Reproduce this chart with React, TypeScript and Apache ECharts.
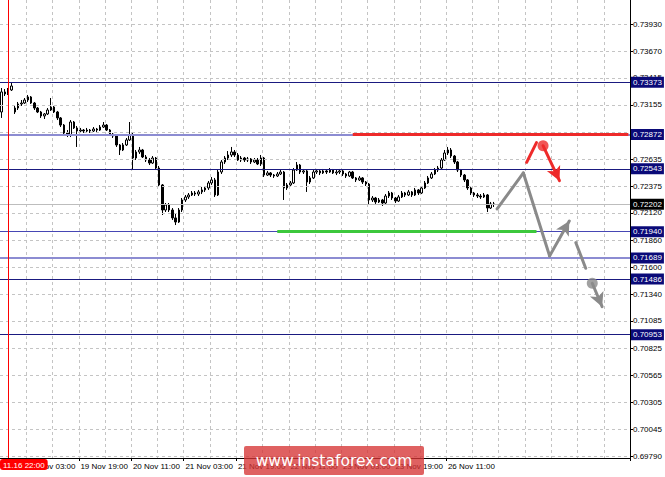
import React, { useEffect, useRef } from "react";
import * as echarts from "echarts";

// ---- data ----
const barCount = 192;
const categories = Array.from({ length: barCount }, (_, i) => String(i));

const timeLabels = [
  "19 Nov 03:00", "19 Nov 19:00", "20 Nov 11:00", "21 Nov 03:00", "21 Nov 19:00",
  "22 Nov 11:00", "23 Nov 03:00", "23 Nov 19:00", "26 Nov 11:00",
];
const timeLabelIndex = [8, 24, 40, 56, 72, 88, 104, 120, 136];
const cursorIndex = 2;
const cursorLabel = "11.16 22:00";

// [open, close, low, high]
const candles = [
  [0.73087, 0.73279, 0.73030, 0.73317], [0.73279, 0.73260, 0.73240, 0.73307], [0.73260, 0.73298, 0.73250, 0.73317], [0.73298, 0.73336, 0.73288, 0.73374],
  [0.73087, 0.73125, 0.73068, 0.73145], [0.73125, 0.73164, 0.73106, 0.73183], [0.73164, 0.73173, 0.73145, 0.73202], [0.73173, 0.73202, 0.73164, 0.73221],
  [0.73202, 0.73231, 0.73183, 0.73250], [0.73231, 0.73173, 0.73164, 0.73240], [0.73173, 0.73125, 0.73106, 0.73183], [0.73125, 0.73087, 0.73077, 0.73135],
  [0.73087, 0.73049, 0.73030, 0.73097], [0.73049, 0.73068, 0.73020, 0.73077], [0.73068, 0.73106, 0.73058, 0.73125], [0.73106, 0.73135, 0.73097, 0.73221],
  [0.73135, 0.73087, 0.73077, 0.73145], [0.73087, 0.73030, 0.73010, 0.73097], [0.73030, 0.72962, 0.72943, 0.73039], [0.72962, 0.72886, 0.72867, 0.72972],
  [0.72886, 0.72867, 0.72847, 0.72914], [0.72867, 0.72991, 0.72847, 0.73010], [0.72991, 0.72934, 0.72924, 0.73001], [0.72934, 0.72905, 0.72752, 0.72953],
  [0.72905, 0.72914, 0.72886, 0.72934], [0.72914, 0.72905, 0.72886, 0.72924], [0.72905, 0.72914, 0.72895, 0.72934], [0.72914, 0.72905, 0.72886, 0.72924],
  [0.72905, 0.72924, 0.72895, 0.72943], [0.72924, 0.72914, 0.72895, 0.72934], [0.72914, 0.72943, 0.72905, 0.72962], [0.72943, 0.72962, 0.72934, 0.72991],
  [0.72962, 0.72914, 0.72905, 0.72972], [0.72914, 0.72876, 0.72867, 0.72924], [0.72876, 0.72857, 0.72838, 0.72886], [0.72857, 0.72771, 0.72752, 0.72867],
  [0.72771, 0.72723, 0.72675, 0.72780], [0.72723, 0.72771, 0.72713, 0.72790], [0.72771, 0.72819, 0.72761, 0.72838], [0.72819, 0.72867, 0.72809, 0.72991],
  [0.72867, 0.72646, 0.72531, 0.72886], [0.72646, 0.72704, 0.72627, 0.72723], [0.72704, 0.72723, 0.72685, 0.72752], [0.72723, 0.72656, 0.72646, 0.72733],
  [0.72656, 0.72627, 0.72608, 0.72675], [0.72627, 0.72598, 0.72579, 0.72646], [0.72598, 0.72646, 0.72589, 0.72665], [0.72646, 0.72550, 0.72531, 0.72656],
  [0.72550, 0.72388, 0.72369, 0.72570], [0.72388, 0.72148, 0.72100, 0.72397], [0.72148, 0.72196, 0.72129, 0.72215], [0.72196, 0.72148, 0.72129, 0.72215],
  [0.72148, 0.72072, 0.72052, 0.72167], [0.72072, 0.72033, 0.72004, 0.72110], [0.72033, 0.72148, 0.72024, 0.72167], [0.72148, 0.72244, 0.72129, 0.72263],
  [0.72244, 0.72273, 0.72225, 0.72292], [0.72273, 0.72292, 0.72254, 0.72311], [0.72292, 0.72311, 0.72282, 0.72330], [0.72311, 0.72301, 0.72282, 0.72330],
  [0.72301, 0.72321, 0.72282, 0.72340], [0.72321, 0.72340, 0.72301, 0.72369], [0.72340, 0.72359, 0.72321, 0.72378], [0.72359, 0.72407, 0.72340, 0.72426],
  [0.72407, 0.72436, 0.72388, 0.72464], [0.72436, 0.72292, 0.72273, 0.72455], [0.72292, 0.72512, 0.72282, 0.72531], [0.72512, 0.72608, 0.72493, 0.72627],
  [0.72608, 0.72646, 0.72589, 0.72665], [0.72646, 0.72675, 0.72627, 0.72713], [0.72675, 0.72704, 0.72656, 0.72752], [0.72704, 0.72675, 0.72656, 0.72723],
  [0.72675, 0.72627, 0.72618, 0.72694], [0.72627, 0.72646, 0.72608, 0.72665], [0.72646, 0.72627, 0.72608, 0.72656], [0.72627, 0.72637, 0.72608, 0.72656],
  [0.72637, 0.72608, 0.72589, 0.72646], [0.72608, 0.72627, 0.72598, 0.72646], [0.72627, 0.72589, 0.72579, 0.72646], [0.72589, 0.72646, 0.72570, 0.72675],
  [0.72646, 0.72483, 0.72464, 0.72656], [0.72483, 0.72503, 0.72474, 0.72522], [0.72503, 0.72483, 0.72464, 0.72512], [0.72483, 0.72474, 0.72455, 0.72493],
  [0.72474, 0.72493, 0.72464, 0.72512], [0.72493, 0.72512, 0.72483, 0.72531], [0.72512, 0.72359, 0.72244, 0.72522], [0.72359, 0.72388, 0.72340, 0.72407],
  [0.72388, 0.72407, 0.72369, 0.72426], [0.72407, 0.72531, 0.72397, 0.72550], [0.72531, 0.72579, 0.72522, 0.72608], [0.72579, 0.72512, 0.72493, 0.72589],
  [0.72512, 0.72522, 0.72493, 0.72541], [0.72522, 0.72416, 0.72321, 0.72531], [0.72416, 0.72455, 0.72397, 0.72474], [0.72455, 0.72512, 0.72445, 0.72531],
  [0.72512, 0.72522, 0.72493, 0.72541], [0.72522, 0.72503, 0.72483, 0.72531], [0.72503, 0.72522, 0.72493, 0.72541], [0.72522, 0.72512, 0.72493, 0.72531],
  [0.72512, 0.72531, 0.72503, 0.72550], [0.72531, 0.72503, 0.72493, 0.72541], [0.72503, 0.72512, 0.72483, 0.72531], [0.72512, 0.72522, 0.72493, 0.72541],
  [0.72522, 0.72493, 0.72474, 0.72531], [0.72493, 0.72474, 0.72455, 0.72503], [0.72474, 0.72512, 0.72464, 0.72522], [0.72512, 0.72455, 0.72445, 0.72522],
  [0.72455, 0.72436, 0.72416, 0.72464], [0.72436, 0.72455, 0.72426, 0.72474], [0.72455, 0.72416, 0.72397, 0.72464], [0.72416, 0.72397, 0.72378, 0.72426],
  [0.72397, 0.72244, 0.72196, 0.72407], [0.72244, 0.72263, 0.72225, 0.72282], [0.72263, 0.72225, 0.72206, 0.72273], [0.72225, 0.72244, 0.72215, 0.72263],
  [0.72244, 0.72215, 0.72187, 0.72254], [0.72215, 0.72282, 0.72206, 0.72301], [0.72282, 0.72311, 0.72263, 0.72330], [0.72311, 0.72263, 0.72244, 0.72321],
  [0.72263, 0.72234, 0.72215, 0.72273], [0.72234, 0.72273, 0.72225, 0.72292], [0.72273, 0.72311, 0.72263, 0.72330], [0.72311, 0.72292, 0.72273, 0.72321],
  [0.72292, 0.72321, 0.72282, 0.72340], [0.72321, 0.72292, 0.72273, 0.72330], [0.72292, 0.72340, 0.72282, 0.72359], [0.72340, 0.72311, 0.72292, 0.72349],
  [0.72311, 0.72359, 0.72301, 0.72378], [0.72359, 0.72407, 0.72349, 0.72426], [0.72407, 0.72455, 0.72397, 0.72474], [0.72455, 0.72493, 0.72445, 0.72512],
  [0.72493, 0.72531, 0.72483, 0.72550], [0.72531, 0.72550, 0.72512, 0.72570], [0.72550, 0.72627, 0.72541, 0.72646], [0.72627, 0.72694, 0.72618, 0.72723],
  [0.72694, 0.72723, 0.72675, 0.72752], [0.72723, 0.72665, 0.72646, 0.72742], [0.72665, 0.72608, 0.72589, 0.72675], [0.72608, 0.72531, 0.72512, 0.72618],
  [0.72531, 0.72483, 0.72464, 0.72541], [0.72483, 0.72436, 0.72416, 0.72493], [0.72436, 0.72359, 0.72340, 0.72445], [0.72359, 0.72311, 0.72292, 0.72369],
  [0.72311, 0.72292, 0.72273, 0.72321], [0.72292, 0.72282, 0.72263, 0.72311], [0.72282, 0.72273, 0.72254, 0.72301], [0.72273, 0.72292, 0.72263, 0.72311],
  [0.72292, 0.72167, 0.72129, 0.72301], [0.72167, 0.72206, 0.72158, 0.72225], [0.72206, 0.72202, 0.72177, 0.72225],
];

const priceMin = 0.69772;
const priceMax = 0.7416;
const gridTicks = [
  0.7393, 0.7367, 0.73415, 0.73155, 0.72895, 0.72635, 0.72375, 0.7212, 0.7186,
  0.716, 0.7134, 0.71085, 0.70825, 0.70565, 0.70305, 0.70045, 0.6979,
];
const labelTicks = [
  0.7393, 0.7367, 0.73415, 0.73155, 0.72635, 0.72375, 0.7212, 0.7186,
  0.716, 0.7134, 0.71085, 0.70825, 0.70565, 0.70305, 0.70045, 0.6979,
];

// horizontal levels
const navyLevels = [0.73373, 0.72543, 0.71486, 0.70953];
const lavenderLevels = [0.72872, 0.71689];
const blueLevels = [0.7194];
const currentPrice = 0.72202;

// highlighted segments [startIndex, endIndex, price]
const resistanceSegment = [106.8, 191, 0.72872];
const supportSegment = [84.4, 162.6, 0.7194];

// forecast arrows: [index, price]
const greyPath = [
  [151.3, 0.72158],
  [158.9, 0.72503],
  [166.5, 0.71708],
  [172.6, 0.72043],
];
const greyPath2 = [
  [175.4, 0.71835],
  [178.3, 0.7159],
];
const greyDot = [179.5, 0.71446];
const greyTip = [182.6, 0.71222];
const redPath = [
  [159.8, 0.72605],
  [163.1, 0.72793],
];
const redDot = [165.4, 0.72764];
const redTip = [170.4, 0.72429];

// ---- styling ----
const FONT = "'Liberation Sans', Arial, sans-serif";
const NAVY = "#1a1a80";
const LABEL_BG = "#0a0a78";
const GRID = "#c4c4c4";
const GREY_ARROW = "#8a8a8a";
const RED = "#ee2a2a";

function levelLine(value: number, color: string, width: number, bg: string) {
  return {
    yAxis: value,
    lineStyle: { color, width, type: "solid" },
    label: {
      show: true,
      position: "end",
      distance: 1,
      formatter: () => value.toFixed(5),
      backgroundColor: bg,
      color: "#ffffff",
      fontFamily: FONT,
      fontSize: 8,
      padding: [2, 2, 1, 2],
    },
  };
}

function seg(a: number[], b: number[], color: string, arrow: boolean) {
  return [
    { coord: a, symbol: "none" },
    { coord: b, symbol: arrow ? "arrow" : "none", lineStyle: { color, width: 3, cap: "round" } },
  ];
}

function buildOption() {
  const levelData: any[] = [];
  navyLevels.forEach((v) => levelData.push(levelLine(v, NAVY, 1, LABEL_BG)));
  lavenderLevels.forEach((v) => levelData.push(levelLine(v, "#8c8cd2", 2, LABEL_BG)));
  blueLevels.forEach((v) => levelData.push(levelLine(v, "#4646b4", 1, LABEL_BG)));
  levelData.push(levelLine(currentPrice, "#bdbdbd", 1, "#000000"));

  const segData: any[] = [
    [
      { coord: [resistanceSegment[0], resistanceSegment[2]], symbol: "none" },
      { coord: [resistanceSegment[1], resistanceSegment[2]], symbol: "none", lineStyle: { color: RED, width: 3, cap: "butt" } },
    ],
    [
      { coord: [supportSegment[0], supportSegment[2]], symbol: "none" },
      { coord: [supportSegment[1], supportSegment[2]], symbol: "none", lineStyle: { color: "#3cc83c", width: 3, cap: "butt" } },
    ],
  ];
  for (let i = 0; i < greyPath.length - 1; i++) {
    segData.push(seg(greyPath[i], greyPath[i + 1], GREY_ARROW, i === greyPath.length - 2));
  }
  segData.push(seg(greyPath2[0], greyPath2[1], GREY_ARROW, false));
  segData.push(seg(greyDot, greyTip, GREY_ARROW, true));
  segData.push(seg(redPath[0], redPath[1], RED, false));
  segData.push(seg(redDot, redTip, RED, true));

  return {
    animation: false,
    backgroundColor: "#ffffff",
    textStyle: { fontFamily: FONT },
    grid: { left: 0, right: 35, top: 0, bottom: 19, containLabel: false },
    xAxis: {
      type: "category",
      data: categories,
      boundaryGap: true,
      axisLine: { show: true, lineStyle: { color: "#000000", width: 1 } },
      axisTick: {
        show: true,
        length: 3,
        interval: (i: number) => timeLabelIndex.includes(i),
        lineStyle: { color: "#000000" },
      },
      axisLabel: {
        show: true,
        interval: (i: number) => timeLabelIndex.includes(i),
        formatter: (_v: string, i: number) => {
          const k = timeLabelIndex.indexOf(i);
          return k >= 0 ? timeLabels[k] : "";
        },
        align: "left",
        color: "#000000",
        fontSize: 8,
        fontFamily: FONT,
        margin: 4,
      },
      splitLine: {
        show: true,
        interval: (i: number) => i > 0 && i % 8 === 0,
        lineStyle: { color: GRID, type: [3, 3], width: 1 },
      },
      axisPointer: {
        show: true,
        value: cursorIndex,
        status: "show",
        triggerOn: "none",
        snap: false,
        type: "line",
        z: 60,
        lineStyle: { color: "#ff0000", width: 1, type: "solid" },
        label: {
          show: true,
          formatter: () => cursorLabel,
          backgroundColor: "#ff0000",
          color: "#ffffff",
          fontSize: 8,
          fontFamily: FONT,
          padding: [2, 3, 1, 3],
          borderWidth: 0,
          shadowBlur: 0,
          margin: 1,
        },
      },
    },
    yAxis: {
      type: "value",
      position: "right",
      min: priceMin,
      max: priceMax,
      scale: true,
      axisLine: { show: true, lineStyle: { color: "#000000", width: 1 } },
      axisTick: { show: true, length: 3, customValues: labelTicks, lineStyle: { color: "#000000" } },
      axisLabel: {
        show: true,
        customValues: labelTicks,
        formatter: (v: number) => v.toFixed(5),
        color: "#000000",
        fontSize: 8,
        fontFamily: FONT,
        margin: 3,
      },
      splitLine: { show: false },
    },
    series: [
      {
        type: "line",
        name: "grid",
        data: [],
        silent: true,
        z: 1,
        markLine: {
          silent: true,
          precision: 5,
          symbol: ["none", "none"],
          label: { show: false },
          lineStyle: { color: GRID, type: [3, 3], width: 1 },
          data: gridTicks.map((v) => ({ yAxis: v })),
        },
      },
      {
        type: "line",
        name: "levels",
        data: [],
        silent: true,
        z: 2,
        markLine: {
          silent: true,
          precision: 5,
          symbol: ["none", "none"],
          data: levelData,
        },
      },
      {
        type: "candlestick",
        name: "AUDUSD",
        data: candles,
        barWidth: 2,
        z: 3,
        itemStyle: {
          color: "#ffffff",
          color0: "#000000",
          borderColor: "#000000",
          borderColor0: "#000000",
          borderWidth: 1,
        },
      },
      {
        type: "line",
        name: "forecast",
        data: [],
        silent: true,
        z: 4,
        markLine: {
          silent: true,
          precision: 5,
          symbol: ["none", "arrow"],
          symbolSize: [11, 14],
          label: { show: false },
          lineStyle: { width: 3, type: "solid", cap: "round" },
          data: segData,
        },
      },
      {
        type: "scatter",
        name: "dots",
        z: 5,
        silent: true,
        symbolSize: 11,
        data: [
          { value: redDot, itemStyle: { color: RED } },
          { value: greyDot, itemStyle: { color: GREY_ARROW } },
        ],
      },
    ],
    graphic: [
      {
        type: "rect",
        z: 100,
        shape: { x: 244, y: 446, width: 180, height: 29, r: 2 },
        style: { fill: "rgba(214,52,52,0.78)" },
      },
      {
        type: "text",
        z: 101,
        x: 334,
        y: 461,
        style: {
          text: "www.instaforex.com",
          fill: "#ffffff",
          font: "15.5px 'DejaVu Sans', Verdana, sans-serif",
          align: "center",
          verticalAlign: "middle",
        },
      },
    ],
  };
}

export default function App() {
  const ref = useRef<HTMLDivElement>(null);
  useEffect(() => {
    document.body.style.margin = "0";
    const chart = echarts.init(ref.current!, null, { renderer: "svg" });
    chart.setOption(buildOption() as any);
    return () => chart.dispose();
  }, []);
  return <div ref={ref} style={{ width: 665, height: 477 }} />;
}
